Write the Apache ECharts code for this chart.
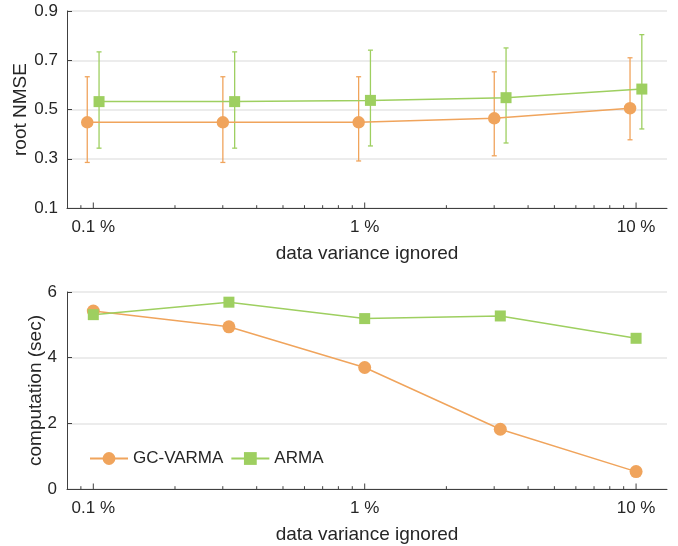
<!DOCTYPE html>
<html>
<head>
<meta charset="utf-8">
<script src="https://cdn.jsdelivr.net/npm/echarts@6/dist/echarts.min.js"></script>
<style>
html,body{margin:0;padding:0;background:#fff;}
#chart{width:678px;height:546px;}
</style>
</head>
<body>
<div id="chart"></div>
<script>
// ---- data ----
const xPercent = [0.1, 0.316, 1, 3.16, 10];
const gcRmse     = [0.448, 0.448, 0.448, 0.464, 0.505];
const gcRmseLow  = [0.285, 0.285, 0.291, 0.312, 0.377];
const gcRmseHigh = [0.633, 0.633, 0.633, 0.653, 0.710];
const armaRmse     = [0.532, 0.532, 0.537, 0.548, 0.583];
const armaRmseLow  = [0.343, 0.343, 0.352, 0.364, 0.421];
const armaRmseHigh = [0.734, 0.734, 0.741, 0.750, 0.804];
const gcTime   = [5.42, 4.94, 3.70, 1.82, 0.53];
const armaTime = [5.31, 5.69, 5.19, 5.27, 4.59];
const majorTicks = [0.1, 1, 10];
const minorTicks = [0.09, 0.2, 0.3, 0.4, 0.5, 0.6, 0.7, 0.8, 0.9, 2, 3, 4, 5, 6, 7, 8, 9];
const seriesNames = ['GC-VARMA', 'ARMA'];

// ---- style ----
const ORANGE = '#F0A45C';
const GREEN = '#9ECF60';
const AXIS = '#404040';
const TEXT = '#262626';
const FONT = 'Liberation Sans, Arial, Helvetica, sans-serif';
const offsetGC = 0.95, offsetARMA = 1.05;

const chart = echarts.init(document.getElementById('chart'), null, {renderer: 'canvas'});

function isPow10(v) {
  const l = Math.log10(v);
  return Math.abs(l - Math.round(l)) < 1e-6;
}
function xAxisCfg(gridIndex) {
  return {
    type: 'log', logBase: 10, gridIndex: gridIndex, min: 0.08, max: 13,
    name: 'data variance ignored', nameLocation: 'middle', nameGap: 36,
    nameMoveOverlap: false,
    nameTextStyle: {fontSize: 19, color: TEXT, fontFamily: FONT},
    axisLine: {show: true, lineStyle: {color: AXIS, width: 1}},
    axisTick: {show: false},
    splitLine: {show: false},
    minorTick: {show: false},
    axisLabel: {
      show: true, margin: 11, fontSize: 17, color: TEXT, fontFamily: FONT,
      showMinLabel: true, showMaxLabel: true,
      formatter: v => isPow10(v) ? (+v.toPrecision(6)) + ' %' : ''
    }
  };
}
function yAxisCfg(gridIndex, min, max, interval, name, gap, fmt, margin) {
  return {
    type: 'value', gridIndex: gridIndex, min: min, max: max, interval: interval,
    name: name, nameLocation: 'middle', nameGap: gap, nameRotate: 90,
    nameMoveOverlap: false,
    nameTextStyle: {fontSize: 19, color: TEXT, fontFamily: FONT},
    axisLine: {show: true, lineStyle: {color: AXIS, width: 1}},
    axisTick: {show: true, inside: true, length: 5, lineStyle: {color: AXIS}},
    splitLine: {show: true, lineStyle: {color: '#E6E6E6', width: 1.5}},
    axisLabel: {margin: margin, fontSize: 17, color: TEXT, fontFamily: FONT, formatter: fmt}
  };
}

function errorSeries(name, xs, lo, hi, factor, color) {
  return {
    type: 'custom', name: name, xAxisIndex: 0, yAxisIndex: 0, z: 2, silent: true,
    data: xs.map((x, i) => [x * factor, lo[i], hi[i]]),
    encode: {x: 0, y: [1, 2]},
    renderItem: function (params, api) {
      const x = api.value(0);
      const pLo = api.coord([x, api.value(1)]);
      const pHi = api.coord([x, api.value(2)]);
      const w = 2.5;
      const st = {stroke: color, lineWidth: 1.3};
      return {
        type: 'group',
        children: [
          {type: 'line', shape: {x1: pLo[0], y1: pLo[1], x2: pHi[0], y2: pHi[1]}, style: st},
          {type: 'line', shape: {x1: pHi[0] - w, y1: pHi[1], x2: pHi[0] + w, y2: pHi[1]}, style: st},
          {type: 'line', shape: {x1: pLo[0] - w, y1: pLo[1], x2: pLo[0] + w, y2: pLo[1]}, style: st}
        ]
      };
    }
  };
}

function tickSeries(axisIdx, yMin) {
  const data = majorTicks.map(v => [v, yMin, 5.5]).concat(minorTicks.map(v => [v, yMin, 2.8]));
  return {
    type: 'custom', name: 'ticks' + axisIdx, xAxisIndex: axisIdx, yAxisIndex: axisIdx, z: 5, silent: true,
    data: data, encode: {x: 0, y: 1},
    renderItem: function (params, api) {
      const p = api.coord([api.value(0), api.value(1)]);
      const len = api.value(2);
      return {type: 'line', shape: {x1: p[0], y1: p[1], x2: p[0], y2: p[1] - len},
              style: {stroke: AXIS, lineWidth: 1}};
    }
  };
}

function lineSeries(name, axisIdx, xs, ys, factor, color, symbol, size) {
  return {
    type: 'line', name: name, xAxisIndex: axisIdx, yAxisIndex: axisIdx, z: 3,
    data: xs.map((x, i) => [x * factor, ys[i]]),
    symbol: symbol, symbolSize: size, showAllSymbol: true,
    lineStyle: {color: color, width: 1.5},
    itemStyle: {color: color, borderWidth: 0},
    emphasis: {disabled: true},
    animation: false
  };
}

const option = {
  animation: false,
  textStyle: {fontFamily: FONT},
  grid: [
    {left: 67, top: 11, width: 600, height: 197, containLabel: false, outerBoundsMode: 'none'},
    {left: 67, top: 292, width: 600, height: 197, containLabel: false, outerBoundsMode: 'none'}
  ],
  xAxis: [xAxisCfg(0), xAxisCfg(1)],
  yAxis: [
    yAxisCfg(0, 0.1, 0.9, 0.2, 'root NMSE', 37, v => v.toFixed(1), 9),
    yAxisCfg(1, 0, 6, 2, 'computation (sec)', 22, v => String(v), 10)
  ],
  legend: {
    data: seriesNames, left: 89, top: 450, padding: 0,
    itemWidth: 38, itemHeight: 16, itemGap: 7,
    textStyle: {fontSize: 17, color: TEXT, fontFamily: FONT},
    selectedMode: false
  },
  series: [
    errorSeries('gcErr', xPercent, gcRmseLow, gcRmseHigh, offsetGC, ORANGE),
    errorSeries('armaErr', xPercent, armaRmseLow, armaRmseHigh, offsetARMA, GREEN),
    lineSeries(seriesNames[0], 0, xPercent, gcRmse, offsetGC, ORANGE, 'circle', 12.5),
    lineSeries(seriesNames[1], 0, xPercent, armaRmse, offsetARMA, GREEN, 'rect', 11),
    lineSeries(seriesNames[0], 1, xPercent, gcTime, 1, ORANGE, 'circle', 13),
    lineSeries(seriesNames[1], 1, xPercent, armaTime, 1, GREEN, 'rect', 11),
    tickSeries(0, 0.1),
    tickSeries(1, 0)
  ]
};
chart.setOption(option);
</script>
</body>
</html>
